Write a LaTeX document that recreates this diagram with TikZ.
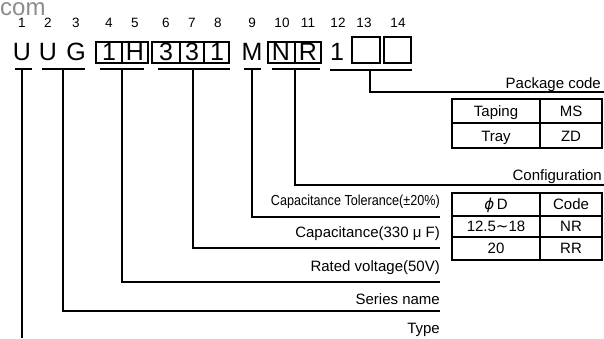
\documentclass[tikz,border=0pt]{standalone}
\usepackage{fontspec}
\usepackage{graphicx}
\setmainfont{Liberation Sans}
\newfontfamily\symfont{DejaVu Sans}
\begin{document}
\begin{tikzpicture}[x=1pt,y=-1pt,
  digit/.style={font=\fontsize{13.5}{13.5}\selectfont, inner sep=0, anchor=base},
  letter/.style={font=\fontsize{25}{25}\selectfont, inner sep=0, anchor=base},
  lbl/.style={font=\fontsize{15}{15}\selectfont, inner sep=0, anchor=base east},
  small/.style={font=\fontsize{14.5}{14.5}\selectfont, inner sep=0, anchor=base east},
  cell/.style={font=\fontsize{15}{15}\selectfont, inner sep=0, anchor=base},
  wm/.style={font=\fontsize{24}{24}\selectfont, inner sep=0, anchor=base west, text=black!45},
  box/.style={line width=1.1pt},
  uline/.style={line width=2pt},
  conn/.style={line width=1.3pt}]
\useasboundingbox (0,0) rectangle (604,338);
\node[wm] (com) at (0,15.5) {com};
% position digits
\foreach \n/\x in {1/22,2/48,3/76,4/109,5/135,6/166,7/192,8/218,9/252,10/282,11/308,12/338,13/364,14/398}
  \node[digit] (d\n) at (\x,27.5) {\n};
% code letters
\node[letter] (L1) at (22,60) {U};
\node[letter] (L2) at (48,60) {U};
\node[letter] (L3) at (76,60) {G};
\node[letter] (L4) at (109,60) {1};
\node[letter] (L5) at (135,60) {H};
\node[letter] (L6) at (166,60) {3};
\node[letter] (L7) at (192,60) {3};
\node[letter] (L8) at (217,60) {1};
\node[letter] (L9) at (252,60) {M};
\node[letter] (L10) at (281,60) {N};
\node[letter] (L11) at (308,60) {R};
\node[letter] (L12) at (337,60) {1};
% boxes
\draw[box] (96,42) rectangle (148,63) (122,42) -- (122,63);
\draw[box] (152,42) rectangle (229,63) (180,42) -- (180,63) (204,42) -- (204,63);
\draw[box] (268,42) rectangle (321,63) (295,42) -- (295,63);
\draw[box] (352,37) rectangle (380,63);
\draw[box] (384,37) rectangle (411,63);
% underlines
\draw[uline] (15,69) -- (32,69);
\draw[uline] (42,69) -- (85,69);
\draw[uline] (100,69) -- (144,69);
\draw[uline] (158,69) -- (230,69);
\draw[uline] (244,69) -- (261,69);
\draw[uline] (272,69) -- (320,69);
\draw[uline] (330,70) -- (412,70);
\coordinate (uType) at (22,69);
\coordinate (uSer) at (63,69);
\coordinate (uVolt) at (122,69);
\coordinate (uCap) at (193,69);
\coordinate (uTol) at (252,69);
\coordinate (uConf) at (295,69);
\coordinate (uPkg) at (370,70);
\coordinate (eType) at (22,338);
\coordinate (eSer) at (440,311);
\coordinate (eVolt) at (440,282);
\coordinate (eCap) at (440,248);
\coordinate (eTol) at (440,217);
\coordinate (eConf) at (604,185);
\coordinate (ePkg) at (604,92);
% connectors
\draw[conn] (uType) -- (eType);
\draw[conn] (uSer) |- (eSer);
\draw[conn] (uVolt) |- (eVolt);
\draw[conn] (uCap) |- (eCap);
\draw[conn] (uTol) |- (eTol);
\draw[conn] (uConf) |- (eConf);
\draw[conn] (uPkg) |- (ePkg);
% labels
\node[lbl] (tPkg) at (601,88.5) {Package code};
\node[lbl] (tConf) at (602,180.5) {Configuration};
\node[small] (tTol) at (440,205.5) {\scalebox{0.87}[1]{Capacitance Tolerance(±20\%)}};
\node[lbl] (tCap) at (440,237.5) {Capacitance(330 μ F)};
\node[lbl] (tVolt) at (440,271) {Rated voltage(50V)};
\node[lbl] (tSer) at (440,304.5) {Series name};
\node[lbl] (tType) at (440,333.5) {Type};
% package table
\draw[box] (452,99) rectangle (602,148) (540,99) -- (540,148) (452,123) -- (602,123);
\node[cell] (c11) at (496,116.5) {Taping};
\node[cell] (c12) at (571,116.5) {MS};
\node[cell] (c21) at (496,141) {Tray};
\node[cell] (c22) at (571,141) {ZD};
% configuration table
\draw[box] (452,193) rectangle (602,260) (540,193) -- (540,260) (452,216) -- (602,216) (452,237) -- (602,237);
\node[cell] (k11) at (496,209.5) {{\symfont\itshape ϕ}\,D};
\node[cell] (k12) at (571,209.5) {Code};
\node[cell] (k21) at (496,231) {12.5{\symfont ∼}18};
\node[cell] (k22) at (571,231) {NR};
\node[cell] (k31) at (496,253.5) {20};
\node[cell] (k32) at (571,253.5) {RR};
\end{tikzpicture}
\end{document}
